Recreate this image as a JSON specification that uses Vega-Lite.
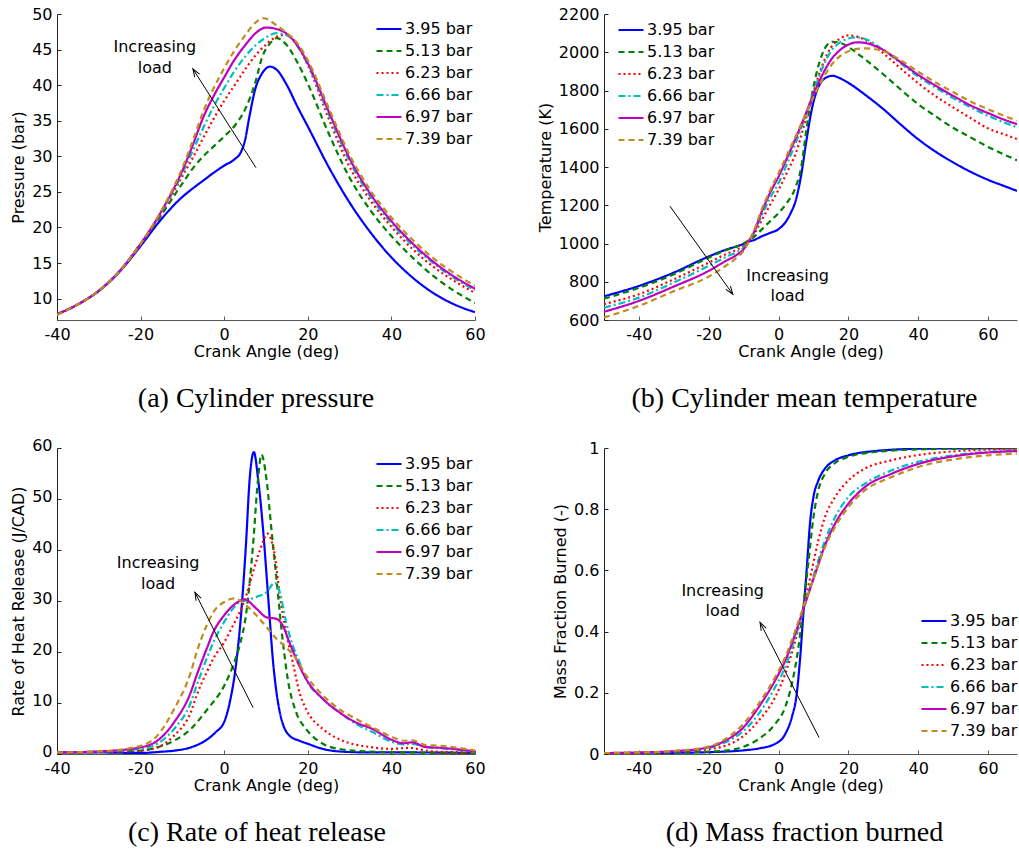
{
"$schema": "https://vega.github.io/schema/vega-lite/v6.json",
"background": "white",
"padding": {"left": 10, "top": 6, "right": 0, "bottom": 0},
"config": {
  "view": {"stroke": null},
  "font": "DejaVu Sans",
  "axis": {"grid": false, "domainColor": "#555", "tickColor": "#555", "labelColor": "#000", "titleColor": "#000", "labelFont": "DejaVu Sans", "titleFont": "DejaVu Sans", "labelFontSize": 16, "titleFontSize": 16, "titleFontWeight": "normal", "tickSize": -4, "labelPadding": 10, "titlePadding": 1, "labelFlush": false, "labelOverlap": false, "labelExpr": "'' + datum.value"},
  "axisY": {"titlePadding": 5, "labelPadding": 9, "domainColor": "#222", "tickColor": "#222"},
  "legend": {"symbolType": "stroke", "symbolSize": 625, "symbolStrokeWidth": 2.2, "labelFont": "DejaVu Sans", "labelFontSize": 16, "labelColor": "#000", "rowPadding": -1, "labelOffset": 2, "padding": 0},
  "title": {"orient": "bottom", "font": "Liberation Serif", "fontSize": 28, "fontWeight": "normal", "color": "#000", "offset": 26, "frame": "group"},
  "line": {"strokeWidth": 2.2, "interpolate": "monotone"}
},
"datasets": {
  "p": [
    {"load":"3.95 bar","ca":-40,"value":7.8},{"load":"3.95 bar","ca":-35,"value":9.2},{"load":"3.95 bar","ca":-30,"value":11.1},{"load":"3.95 bar","ca":-25,"value":13.8},{"load":"3.95 bar","ca":-20,"value":17.4},{"load":"3.95 bar","ca":-15,"value":21.2},{"load":"3.95 bar","ca":-10,"value":24.3},{"load":"3.95 bar","ca":-7.5,"value":25.5},{"load":"3.95 bar","ca":-5,"value":26.6},{"load":"3.95 bar","ca":-2.5,"value":27.7},{"load":"3.95 bar","ca":0,"value":28.7},{"load":"3.95 bar","ca":2.5,"value":29.6},{"load":"3.95 bar","ca":4,"value":30.6},{"load":"3.95 bar","ca":5,"value":32.3},{"load":"3.95 bar","ca":6,"value":35.5},{"load":"3.95 bar","ca":7.5,"value":39.6},{"load":"3.95 bar","ca":9,"value":41.6},{"load":"3.95 bar","ca":11,"value":42.6},{"load":"3.95 bar","ca":12.5,"value":42.2},{"load":"3.95 bar","ca":15,"value":40.0},{"load":"3.95 bar","ca":17.5,"value":37.0},{"load":"3.95 bar","ca":20,"value":34.2},{"load":"3.95 bar","ca":25,"value":28.5},{"load":"3.95 bar","ca":30,"value":23.5},{"load":"3.95 bar","ca":35,"value":19.3},{"load":"3.95 bar","ca":40,"value":15.8},{"load":"3.95 bar","ca":45,"value":13.0},{"load":"3.95 bar","ca":50,"value":10.8},{"load":"3.95 bar","ca":55,"value":9.2},{"load":"3.95 bar","ca":60,"value":8.1},
    {"load":"5.13 bar","ca":-40,"value":7.8},{"load":"5.13 bar","ca":-35,"value":9.2},{"load":"5.13 bar","ca":-30,"value":11.1},{"load":"5.13 bar","ca":-25,"value":13.9},{"load":"5.13 bar","ca":-20,"value":17.7},{"load":"5.13 bar","ca":-15,"value":21.8},{"load":"5.13 bar","ca":-10,"value":26.2},{"load":"5.13 bar","ca":-7.5,"value":28.3},{"load":"5.13 bar","ca":-5,"value":30.0},{"load":"5.13 bar","ca":-2.5,"value":31.4},{"load":"5.13 bar","ca":0,"value":32.8},{"load":"5.13 bar","ca":2.5,"value":34.3},{"load":"5.13 bar","ca":5,"value":36.6},{"load":"5.13 bar","ca":7.5,"value":40.5},{"load":"5.13 bar","ca":9,"value":43.8},{"load":"5.13 bar","ca":11,"value":45.9},{"load":"5.13 bar","ca":12.5,"value":46.6},{"load":"5.13 bar","ca":15,"value":45.6},{"load":"5.13 bar","ca":17.5,"value":43.2},{"load":"5.13 bar","ca":20,"value":40.2},{"load":"5.13 bar","ca":25,"value":33.2},{"load":"5.13 bar","ca":30,"value":27.0},{"load":"5.13 bar","ca":35,"value":22.4},{"load":"5.13 bar","ca":40,"value":18.8},{"load":"5.13 bar","ca":45,"value":15.8},{"load":"5.13 bar","ca":50,"value":13.2},{"load":"5.13 bar","ca":55,"value":11.1},{"load":"5.13 bar","ca":60,"value":9.4},
    {"load":"6.23 bar","ca":-40,"value":7.8},{"load":"6.23 bar","ca":-35,"value":9.2},{"load":"6.23 bar","ca":-30,"value":11.1},{"load":"6.23 bar","ca":-25,"value":13.9},{"load":"6.23 bar","ca":-20,"value":17.7},{"load":"6.23 bar","ca":-15,"value":22.0},{"load":"6.23 bar","ca":-10,"value":27.2},{"load":"6.23 bar","ca":-7.5,"value":29.8},{"load":"6.23 bar","ca":-5,"value":32.6},{"load":"6.23 bar","ca":-2.5,"value":35.3},{"load":"6.23 bar","ca":0,"value":37.8},{"load":"6.23 bar","ca":2.5,"value":40.0},{"load":"6.23 bar","ca":5,"value":42.2},{"load":"6.23 bar","ca":7.5,"value":44.2},{"load":"6.23 bar","ca":10,"value":45.7},{"load":"6.23 bar","ca":12.5,"value":46.8},{"load":"6.23 bar","ca":15,"value":47.1},{"load":"6.23 bar","ca":17.5,"value":45.6},{"load":"6.23 bar","ca":20,"value":42.8},{"load":"6.23 bar","ca":25,"value":35.3},{"load":"6.23 bar","ca":30,"value":28.5},{"load":"6.23 bar","ca":35,"value":23.8},{"load":"6.23 bar","ca":40,"value":20.1},{"load":"6.23 bar","ca":45,"value":17.0},{"load":"6.23 bar","ca":50,"value":14.5},{"load":"6.23 bar","ca":55,"value":12.5},{"load":"6.23 bar","ca":60,"value":10.8},
    {"load":"6.66 bar","ca":-40,"value":7.8},{"load":"6.66 bar","ca":-35,"value":9.2},{"load":"6.66 bar","ca":-30,"value":11.1},{"load":"6.66 bar","ca":-25,"value":13.9},{"load":"6.66 bar","ca":-20,"value":17.7},{"load":"6.66 bar","ca":-15,"value":22.2},{"load":"6.66 bar","ca":-10,"value":27.6},{"load":"6.66 bar","ca":-7.5,"value":30.8},{"load":"6.66 bar","ca":-5,"value":34.0},{"load":"6.66 bar","ca":-2.5,"value":37.0},{"load":"6.66 bar","ca":0,"value":39.6},{"load":"6.66 bar","ca":2.5,"value":42.0},{"load":"6.66 bar","ca":5,"value":44.0},{"load":"6.66 bar","ca":7.5,"value":45.6},{"load":"6.66 bar","ca":10,"value":46.7},{"load":"6.66 bar","ca":12.5,"value":47.3},{"load":"6.66 bar","ca":15,"value":47.0},{"load":"6.66 bar","ca":17.5,"value":45.5},{"load":"6.66 bar","ca":20,"value":42.9},{"load":"6.66 bar","ca":25,"value":35.9},{"load":"6.66 bar","ca":30,"value":29.3},{"load":"6.66 bar","ca":35,"value":24.3},{"load":"6.66 bar","ca":40,"value":20.6},{"load":"6.66 bar","ca":45,"value":17.5},{"load":"6.66 bar","ca":50,"value":15.0},{"load":"6.66 bar","ca":55,"value":12.9},{"load":"6.66 bar","ca":60,"value":11.2},
    {"load":"6.97 bar","ca":-40,"value":7.8},{"load":"6.97 bar","ca":-35,"value":9.2},{"load":"6.97 bar","ca":-30,"value":11.1},{"load":"6.97 bar","ca":-25,"value":13.9},{"load":"6.97 bar","ca":-20,"value":17.7},{"load":"6.97 bar","ca":-15,"value":22.3},{"load":"6.97 bar","ca":-10,"value":28.0},{"load":"6.97 bar","ca":-7.5,"value":31.6},{"load":"6.97 bar","ca":-5,"value":35.5},{"load":"6.97 bar","ca":-2.5,"value":38.5},{"load":"6.97 bar","ca":0,"value":41.1},{"load":"6.97 bar","ca":2.5,"value":43.6},{"load":"6.97 bar","ca":5,"value":45.6},{"load":"6.97 bar","ca":7.5,"value":47.3},{"load":"6.97 bar","ca":10,"value":48.1},{"load":"6.97 bar","ca":12.5,"value":47.9},{"load":"6.97 bar","ca":15,"value":47.2},{"load":"6.97 bar","ca":17.5,"value":45.6},{"load":"6.97 bar","ca":20,"value":43.1},{"load":"6.97 bar","ca":25,"value":36.3},{"load":"6.97 bar","ca":30,"value":29.7},{"load":"6.97 bar","ca":35,"value":24.7},{"load":"6.97 bar","ca":40,"value":20.9},{"load":"6.97 bar","ca":45,"value":17.8},{"load":"6.97 bar","ca":50,"value":15.2},{"load":"6.97 bar","ca":55,"value":13.1},{"load":"6.97 bar","ca":60,"value":11.4},
    {"load":"7.39 bar","ca":-40,"value":7.7},{"load":"7.39 bar","ca":-35,"value":9.2},{"load":"7.39 bar","ca":-30,"value":11.1},{"load":"7.39 bar","ca":-25,"value":13.9},{"load":"7.39 bar","ca":-20,"value":17.7},{"load":"7.39 bar","ca":-15,"value":22.4},{"load":"7.39 bar","ca":-10,"value":28.4},{"load":"7.39 bar","ca":-7.5,"value":32.2},{"load":"7.39 bar","ca":-5,"value":36.3},{"load":"7.39 bar","ca":-2.5,"value":39.6},{"load":"7.39 bar","ca":0,"value":42.4},{"load":"7.39 bar","ca":2.5,"value":44.9},{"load":"7.39 bar","ca":5,"value":47.0},{"load":"7.39 bar","ca":7.5,"value":48.8},{"load":"7.39 bar","ca":9.5,"value":49.4},{"load":"7.39 bar","ca":12.5,"value":48.4},{"load":"7.39 bar","ca":15,"value":47.3},{"load":"7.39 bar","ca":17.5,"value":45.9},{"load":"7.39 bar","ca":20,"value":43.5},{"load":"7.39 bar","ca":25,"value":36.8},{"load":"7.39 bar","ca":30,"value":30.2},{"load":"7.39 bar","ca":35,"value":25.2},{"load":"7.39 bar","ca":40,"value":21.4},{"load":"7.39 bar","ca":45,"value":18.3},{"load":"7.39 bar","ca":50,"value":15.7},{"load":"7.39 bar","ca":55,"value":13.6},{"load":"7.39 bar","ca":60,"value":11.8}
  ],
  "T": [
    {"load":"3.95 bar","ca":-50,"value":724},{"load":"3.95 bar","ca":-40,"value":778},{"load":"3.95 bar","ca":-30,"value":848},{"load":"3.95 bar","ca":-20,"value":932},{"load":"3.95 bar","ca":-15,"value":968},{"load":"3.95 bar","ca":-12,"value":985},{"load":"3.95 bar","ca":-10,"value":998},{"load":"3.95 bar","ca":-8.5,"value":1010},{"load":"3.95 bar","ca":-7,"value":1018},{"load":"3.95 bar","ca":-5,"value":1036},{"load":"3.95 bar","ca":-2.5,"value":1055},{"load":"3.95 bar","ca":0,"value":1075},{"load":"3.95 bar","ca":2,"value":1112},{"load":"3.95 bar","ca":3.5,"value":1160},{"load":"3.95 bar","ca":5,"value":1230},{"load":"3.95 bar","ca":6.5,"value":1360},{"load":"3.95 bar","ca":8,"value":1540},{"load":"3.95 bar","ca":9.5,"value":1700},{"load":"3.95 bar","ca":11,"value":1800},{"load":"3.95 bar","ca":13,"value":1860},{"load":"3.95 bar","ca":15.5,"value":1877},{"load":"3.95 bar","ca":17.5,"value":1865},{"load":"3.95 bar","ca":20,"value":1840},{"load":"3.95 bar","ca":25,"value":1775},{"load":"3.95 bar","ca":30,"value":1703},{"load":"3.95 bar","ca":35,"value":1622},{"load":"3.95 bar","ca":40,"value":1545},{"load":"3.95 bar","ca":45,"value":1480},{"load":"3.95 bar","ca":50,"value":1424},{"load":"3.95 bar","ca":55,"value":1375},{"load":"3.95 bar","ca":60,"value":1333},{"load":"3.95 bar","ca":65,"value":1298},{"load":"3.95 bar","ca":68.3,"value":1275},
    {"load":"5.13 bar","ca":-50,"value":712},{"load":"5.13 bar","ca":-40,"value":768},{"load":"5.13 bar","ca":-30,"value":839},{"load":"5.13 bar","ca":-20,"value":926},{"load":"5.13 bar","ca":-15,"value":966},{"load":"5.13 bar","ca":-12,"value":985},{"load":"5.13 bar","ca":-10,"value":1000},{"load":"5.13 bar","ca":-8.5,"value":1018},{"load":"5.13 bar","ca":-7,"value":1035},{"load":"5.13 bar","ca":-5,"value":1070},{"load":"5.13 bar","ca":-2.5,"value":1115},{"load":"5.13 bar","ca":0,"value":1160},{"load":"5.13 bar","ca":2.5,"value":1215},{"load":"5.13 bar","ca":5,"value":1300},{"load":"5.13 bar","ca":6.5,"value":1400},{"load":"5.13 bar","ca":8,"value":1600},{"load":"5.13 bar","ca":9.5,"value":1770},{"load":"5.13 bar","ca":11,"value":1900},{"load":"5.13 bar","ca":12.5,"value":1990},{"load":"5.13 bar","ca":14,"value":2040},{"load":"5.13 bar","ca":15.5,"value":2055},{"load":"5.13 bar","ca":17.5,"value":2050},{"load":"5.13 bar","ca":20,"value":2028},{"load":"5.13 bar","ca":22.5,"value":1995},{"load":"5.13 bar","ca":25,"value":1960},{"load":"5.13 bar","ca":30,"value":1885},{"load":"5.13 bar","ca":35,"value":1805},{"load":"5.13 bar","ca":40,"value":1728},{"load":"5.13 bar","ca":45,"value":1665},{"load":"5.13 bar","ca":50,"value":1605},{"load":"5.13 bar","ca":55,"value":1555},{"load":"5.13 bar","ca":60,"value":1505},{"load":"5.13 bar","ca":65,"value":1462},{"load":"5.13 bar","ca":68.3,"value":1435},
    {"load":"6.23 bar","ca":-50,"value":683},{"load":"6.23 bar","ca":-40,"value":735},{"load":"6.23 bar","ca":-30,"value":813},{"load":"6.23 bar","ca":-20,"value":900},{"load":"6.23 bar","ca":-15,"value":945},{"load":"6.23 bar","ca":-12,"value":968},{"load":"6.23 bar","ca":-10,"value":988},{"load":"6.23 bar","ca":-8.5,"value":1017},{"load":"6.23 bar","ca":-7,"value":1050},{"load":"6.23 bar","ca":-5,"value":1115},{"load":"6.23 bar","ca":-2.5,"value":1200},{"load":"6.23 bar","ca":0,"value":1281},{"load":"6.23 bar","ca":2.5,"value":1375},{"load":"6.23 bar","ca":5,"value":1475},{"load":"6.23 bar","ca":7.5,"value":1630},{"load":"6.23 bar","ca":10,"value":1790},{"load":"6.23 bar","ca":12.5,"value":1930},{"load":"6.23 bar","ca":15,"value":2025},{"load":"6.23 bar","ca":17.5,"value":2070},{"load":"6.23 bar","ca":20,"value":2088},{"load":"6.23 bar","ca":22.5,"value":2082},{"load":"6.23 bar","ca":25,"value":2062},{"load":"6.23 bar","ca":30,"value":1995},{"load":"6.23 bar","ca":35,"value":1915},{"load":"6.23 bar","ca":40,"value":1838},{"load":"6.23 bar","ca":45,"value":1770},{"load":"6.23 bar","ca":50,"value":1712},{"load":"6.23 bar","ca":55,"value":1656},{"load":"6.23 bar","ca":60,"value":1602},{"load":"6.23 bar","ca":65,"value":1568},{"load":"6.23 bar","ca":68.3,"value":1546},
    {"load":"6.66 bar","ca":-50,"value":665},{"load":"6.66 bar","ca":-40,"value":717},{"load":"6.66 bar","ca":-30,"value":796},{"load":"6.66 bar","ca":-20,"value":883},{"load":"6.66 bar","ca":-15,"value":930},{"load":"6.66 bar","ca":-12,"value":955},{"load":"6.66 bar","ca":-10,"value":978},{"load":"6.66 bar","ca":-8.5,"value":1015},{"load":"6.66 bar","ca":-7,"value":1055},{"load":"6.66 bar","ca":-5,"value":1140},{"load":"6.66 bar","ca":-2.5,"value":1235},{"load":"6.66 bar","ca":0,"value":1316},{"load":"6.66 bar","ca":2.5,"value":1420},{"load":"6.66 bar","ca":5,"value":1530},{"load":"6.66 bar","ca":7.5,"value":1655},{"load":"6.66 bar","ca":10,"value":1790},{"load":"6.66 bar","ca":12.5,"value":1915},{"load":"6.66 bar","ca":15,"value":2005},{"load":"6.66 bar","ca":17.5,"value":2050},{"load":"6.66 bar","ca":20,"value":2072},{"load":"6.66 bar","ca":22.5,"value":2078},{"load":"6.66 bar","ca":25,"value":2068},{"load":"6.66 bar","ca":30,"value":2012},{"load":"6.66 bar","ca":35,"value":1942},{"load":"6.66 bar","ca":40,"value":1872},{"load":"6.66 bar","ca":45,"value":1815},{"load":"6.66 bar","ca":50,"value":1760},{"load":"6.66 bar","ca":55,"value":1712},{"load":"6.66 bar","ca":60,"value":1668},{"load":"6.66 bar","ca":65,"value":1630},{"load":"6.66 bar","ca":68.3,"value":1607},
    {"load":"6.97 bar","ca":-50,"value":643},{"load":"6.97 bar","ca":-40,"value":700},{"load":"6.97 bar","ca":-30,"value":775},{"load":"6.97 bar","ca":-20,"value":857},{"load":"6.97 bar","ca":-15,"value":910},{"load":"6.97 bar","ca":-12,"value":940},{"load":"6.97 bar","ca":-10,"value":970},{"load":"6.97 bar","ca":-8.5,"value":1012},{"load":"6.97 bar","ca":-7,"value":1062},{"load":"6.97 bar","ca":-5,"value":1158},{"load":"6.97 bar","ca":-2.5,"value":1262},{"load":"6.97 bar","ca":0,"value":1350},{"load":"6.97 bar","ca":2.5,"value":1450},{"load":"6.97 bar","ca":5,"value":1555},{"load":"6.97 bar","ca":7.5,"value":1665},{"load":"6.97 bar","ca":10,"value":1780},{"load":"6.97 bar","ca":12.5,"value":1880},{"load":"6.97 bar","ca":15,"value":1960},{"load":"6.97 bar","ca":17.5,"value":2010},{"load":"6.97 bar","ca":20,"value":2040},{"load":"6.97 bar","ca":22.5,"value":2052},{"load":"6.97 bar","ca":25,"value":2048},{"load":"6.97 bar","ca":30,"value":2012},{"load":"6.97 bar","ca":35,"value":1948},{"load":"6.97 bar","ca":40,"value":1882},{"load":"6.97 bar","ca":45,"value":1825},{"load":"6.97 bar","ca":50,"value":1772},{"load":"6.97 bar","ca":55,"value":1722},{"load":"6.97 bar","ca":60,"value":1682},{"load":"6.97 bar","ca":65,"value":1645},{"load":"6.97 bar","ca":68.3,"value":1624},
    {"load":"7.39 bar","ca":-50,"value":613},{"load":"7.39 bar","ca":-40,"value":674},{"load":"7.39 bar","ca":-30,"value":751},{"load":"7.39 bar","ca":-20,"value":827},{"load":"7.39 bar","ca":-15,"value":885},{"load":"7.39 bar","ca":-12,"value":925},{"load":"7.39 bar","ca":-10,"value":962},{"load":"7.39 bar","ca":-8.5,"value":1010},{"load":"7.39 bar","ca":-7,"value":1070},{"load":"7.39 bar","ca":-5,"value":1170},{"load":"7.39 bar","ca":-2.5,"value":1275},{"load":"7.39 bar","ca":0,"value":1368},{"load":"7.39 bar","ca":2.5,"value":1465},{"load":"7.39 bar","ca":5,"value":1565},{"load":"7.39 bar","ca":7.5,"value":1665},{"load":"7.39 bar","ca":10,"value":1765},{"load":"7.39 bar","ca":12.5,"value":1855},{"load":"7.39 bar","ca":15,"value":1930},{"load":"7.39 bar","ca":17.5,"value":1978},{"load":"7.39 bar","ca":20,"value":2005},{"load":"7.39 bar","ca":22.5,"value":2018},{"load":"7.39 bar","ca":25,"value":2020},{"load":"7.39 bar","ca":30,"value":2006},{"load":"7.39 bar","ca":35,"value":1958},{"load":"7.39 bar","ca":40,"value":1898},{"load":"7.39 bar","ca":45,"value":1842},{"load":"7.39 bar","ca":50,"value":1792},{"load":"7.39 bar","ca":55,"value":1742},{"load":"7.39 bar","ca":60,"value":1702},{"load":"7.39 bar","ca":65,"value":1665},{"load":"7.39 bar","ca":68.3,"value":1642}
  ],
  "h": [
    {"load":"3.95 bar","ca":-40,"value":0.3},{"load":"3.95 bar","ca":-30,"value":0.3},{"load":"3.95 bar","ca":-20,"value":0.2},{"load":"3.95 bar","ca":-15,"value":0.45},{"load":"3.95 bar","ca":-12,"value":0.65},{"load":"3.95 bar","ca":-8,"value":1.3},{"load":"3.95 bar","ca":-4,"value":2.9},{"load":"3.95 bar","ca":-2,"value":4.3},{"load":"3.95 bar","ca":0,"value":6.3},{"load":"3.95 bar","ca":1.3,"value":10},{"load":"3.95 bar","ca":2.9,"value":18},{"load":"3.95 bar","ca":4.1,"value":28},{"load":"3.95 bar","ca":5.2,"value":41},{"load":"3.95 bar","ca":6.1,"value":54},{"load":"3.95 bar","ca":7.1,"value":59.2},{"load":"3.95 bar","ca":8.1,"value":54},{"load":"3.95 bar","ca":9.3,"value":44},{"load":"3.95 bar","ca":10.5,"value":31},{"load":"3.95 bar","ca":11.7,"value":18},{"load":"3.95 bar","ca":13.3,"value":8.2},{"load":"3.95 bar","ca":15.6,"value":3.6},{"load":"3.95 bar","ca":18,"value":2.6},{"load":"3.95 bar","ca":20,"value":2.0},{"load":"3.95 bar","ca":23.6,"value":1.0},{"load":"3.95 bar","ca":27.5,"value":0.5},{"load":"3.95 bar","ca":35,"value":0.3},{"load":"3.95 bar","ca":45,"value":0.3},{"load":"3.95 bar","ca":60,"value":0.2},
    {"load":"5.13 bar","ca":-40,"value":0.3},{"load":"5.13 bar","ca":-30,"value":0.4},{"load":"5.13 bar","ca":-20,"value":0.65},{"load":"5.13 bar","ca":-16,"value":1.3},{"load":"5.13 bar","ca":-12,"value":2.6},{"load":"5.13 bar","ca":-8,"value":4.9},{"load":"5.13 bar","ca":-4,"value":8.8},{"load":"5.13 bar","ca":0,"value":13.4},{"load":"5.13 bar","ca":2.1,"value":17.3},{"load":"5.13 bar","ca":3.7,"value":21.3},{"load":"5.13 bar","ca":5.3,"value":27.8},{"load":"5.13 bar","ca":6.9,"value":41},{"load":"5.13 bar","ca":8.1,"value":54},{"load":"5.13 bar","ca":8.9,"value":58.7},{"load":"5.13 bar","ca":10.1,"value":54},{"load":"5.13 bar","ca":11.3,"value":44},{"load":"5.13 bar","ca":12.5,"value":34.4},{"load":"5.13 bar","ca":13.7,"value":24.5},{"load":"5.13 bar","ca":15.2,"value":14.7},{"load":"5.13 bar","ca":17.2,"value":8.2},{"load":"5.13 bar","ca":19.6,"value":4.9},{"load":"5.13 bar","ca":23.6,"value":2.0},{"load":"5.13 bar","ca":27.5,"value":1.0},{"load":"5.13 bar","ca":35.5,"value":0.45},{"load":"5.13 bar","ca":45,"value":0.3},{"load":"5.13 bar","ca":60,"value":0.2},
    {"load":"6.23 bar","ca":-40,"value":0.3},{"load":"6.23 bar","ca":-30,"value":0.4},{"load":"6.23 bar","ca":-20,"value":0.7},{"load":"6.23 bar","ca":-16,"value":1.3},{"load":"6.23 bar","ca":-12,"value":3.6},{"load":"6.23 bar","ca":-8,"value":8.2},{"load":"6.23 bar","ca":-6.6,"value":11.5},{"load":"6.23 bar","ca":-4.2,"value":16},{"load":"6.23 bar","ca":-2.6,"value":18.7},{"load":"6.23 bar","ca":0,"value":21.9},{"load":"6.23 bar","ca":2.1,"value":25.2},{"load":"6.23 bar","ca":3.7,"value":27.8},{"load":"6.23 bar","ca":5.3,"value":31.1},{"load":"6.23 bar","ca":6.9,"value":35.7},{"load":"6.23 bar","ca":8.1,"value":38.9},{"load":"6.23 bar","ca":9.3,"value":41.6},{"load":"6.23 bar","ca":10.3,"value":43.2},{"load":"6.23 bar","ca":11,"value":42.5},{"load":"6.23 bar","ca":12.1,"value":38.9},{"load":"6.23 bar","ca":13.3,"value":31.1},{"load":"6.23 bar","ca":14.8,"value":23.9},{"load":"6.23 bar","ca":16.4,"value":18},{"load":"6.23 bar","ca":18,"value":12.1},{"load":"6.23 bar","ca":19.6,"value":8.8},{"load":"6.23 bar","ca":23.6,"value":4.9},{"load":"6.23 bar","ca":27.5,"value":2.9},{"load":"6.23 bar","ca":35.5,"value":1.3},{"load":"6.23 bar","ca":40,"value":1.0},{"load":"6.23 bar","ca":44,"value":1.2},{"load":"6.23 bar","ca":50,"value":0.5},{"load":"6.23 bar","ca":60,"value":0.3},
    {"load":"6.66 bar","ca":-40,"value":0.3},{"load":"6.66 bar","ca":-30,"value":0.5},{"load":"6.66 bar","ca":-20,"value":1.0},{"load":"6.66 bar","ca":-16,"value":2.0},{"load":"6.66 bar","ca":-12,"value":4.9},{"load":"6.66 bar","ca":-8,"value":10.1},{"load":"6.66 bar","ca":-6.6,"value":13.4},{"load":"6.66 bar","ca":-4.2,"value":18.7},{"load":"6.66 bar","ca":-2.6,"value":21.9},{"load":"6.66 bar","ca":0,"value":25.9},{"load":"6.66 bar","ca":2.1,"value":28.5},{"load":"6.66 bar","ca":3.7,"value":29.8},{"load":"6.66 bar","ca":5.3,"value":30.1},{"load":"6.66 bar","ca":7.7,"value":30.8},{"load":"6.66 bar","ca":10.1,"value":31.7},{"load":"6.66 bar","ca":12.1,"value":33.6},{"load":"6.66 bar","ca":13.3,"value":31.7},{"load":"6.66 bar","ca":14.8,"value":25.9},{"load":"6.66 bar","ca":16.4,"value":21.3},{"load":"6.66 bar","ca":18,"value":18},{"load":"6.66 bar","ca":19.6,"value":14.7},{"load":"6.66 bar","ca":23.6,"value":10.8},{"load":"6.66 bar","ca":27.5,"value":8.2},{"load":"6.66 bar","ca":31.5,"value":5.9},{"load":"6.66 bar","ca":35.5,"value":4.3},{"load":"6.66 bar","ca":40,"value":2.4},{"load":"6.66 bar","ca":43,"value":1.9},{"load":"6.66 bar","ca":45,"value":2.0},{"load":"6.66 bar","ca":48,"value":1.4},{"load":"6.66 bar","ca":52,"value":1.1},{"load":"6.66 bar","ca":56,"value":0.8},{"load":"6.66 bar","ca":60,"value":0.4},
    {"load":"6.97 bar","ca":-40,"value":0.3},{"load":"6.97 bar","ca":-30,"value":0.5},{"load":"6.97 bar","ca":-20,"value":1.3},{"load":"6.97 bar","ca":-16,"value":2.6},{"load":"6.97 bar","ca":-12,"value":6.2},{"load":"6.97 bar","ca":-8,"value":12.1},{"load":"6.97 bar","ca":-6.6,"value":15.4},{"load":"6.97 bar","ca":-4.2,"value":20.6},{"load":"6.97 bar","ca":-2.6,"value":23.9},{"load":"6.97 bar","ca":0,"value":27.2},{"load":"6.97 bar","ca":2.1,"value":29.1},{"load":"6.97 bar","ca":4.9,"value":30.3},{"load":"6.97 bar","ca":7.7,"value":28.5},{"load":"6.97 bar","ca":10.1,"value":26.8},{"load":"6.97 bar","ca":12.5,"value":26.5},{"load":"6.97 bar","ca":14,"value":25.2},{"load":"6.97 bar","ca":15.6,"value":21.9},{"load":"6.97 bar","ca":17.2,"value":18.7},{"load":"6.97 bar","ca":19.6,"value":14.7},{"load":"6.97 bar","ca":23.6,"value":10.8},{"load":"6.97 bar","ca":27.5,"value":8.2},{"load":"6.97 bar","ca":31.5,"value":6.2},{"load":"6.97 bar","ca":35.5,"value":4.9},{"load":"6.97 bar","ca":40,"value":2.8},{"load":"6.97 bar","ca":43,"value":2.1},{"load":"6.97 bar","ca":45,"value":2.3},{"load":"6.97 bar","ca":48,"value":1.4},{"load":"6.97 bar","ca":52,"value":1.2},{"load":"6.97 bar","ca":56,"value":0.9},{"load":"6.97 bar","ca":60,"value":0.5},
    {"load":"7.39 bar","ca":-40,"value":0.3},{"load":"7.39 bar","ca":-30,"value":0.5},{"load":"7.39 bar","ca":-20,"value":1.6},{"load":"7.39 bar","ca":-16,"value":3.6},{"load":"7.39 bar","ca":-12,"value":8.8},{"load":"7.39 bar","ca":-8,"value":16},{"load":"7.39 bar","ca":-6.6,"value":19.9},{"load":"7.39 bar","ca":-4.2,"value":25.2},{"load":"7.39 bar","ca":-2.6,"value":27.8},{"load":"7.39 bar","ca":0,"value":29.8},{"load":"7.39 bar","ca":2.5,"value":30.5},{"load":"7.39 bar","ca":5.3,"value":29.1},{"load":"7.39 bar","ca":7.7,"value":27.2},{"load":"7.39 bar","ca":10.1,"value":24.9},{"load":"7.39 bar","ca":12.5,"value":22.6},{"load":"7.39 bar","ca":14.8,"value":20.9},{"load":"7.39 bar","ca":17.2,"value":18.7},{"load":"7.39 bar","ca":19.6,"value":15.4},{"load":"7.39 bar","ca":23.6,"value":11.5},{"load":"7.39 bar","ca":27.5,"value":8.8},{"load":"7.39 bar","ca":31.5,"value":6.9},{"load":"7.39 bar","ca":35.5,"value":5.2},{"load":"7.39 bar","ca":40,"value":3.4},{"load":"7.39 bar","ca":43,"value":2.6},{"load":"7.39 bar","ca":45,"value":2.7},{"load":"7.39 bar","ca":48,"value":1.8},{"load":"7.39 bar","ca":52,"value":1.6},{"load":"7.39 bar","ca":56,"value":1.2},{"load":"7.39 bar","ca":60,"value":0.7}
  ],
  "m": [
    {"load":"3.95 bar","ca":-50,"value":0.003},{"load":"3.95 bar","ca":-40,"value":0.003},{"load":"3.95 bar","ca":-30,"value":0.004},{"load":"3.95 bar","ca":-20,"value":0.006},{"load":"3.95 bar","ca":-10,"value":0.012},{"load":"3.95 bar","ca":-5.7,"value":0.018},{"load":"3.95 bar","ca":-1,"value":0.033},{"load":"3.95 bar","ca":1.9,"value":0.065},{"load":"3.95 bar","ca":3.8,"value":0.12},{"load":"3.95 bar","ca":5.2,"value":0.196},{"load":"3.95 bar","ca":6.2,"value":0.316},{"load":"3.95 bar","ca":7.1,"value":0.458},{"load":"3.95 bar","ca":8.1,"value":0.61},{"load":"3.95 bar","ca":9,"value":0.753},{"load":"3.95 bar","ca":10,"value":0.84},{"load":"3.95 bar","ca":11.4,"value":0.894},{"load":"3.95 bar","ca":13.3,"value":0.933},{"load":"3.95 bar","ca":16.2,"value":0.96},{"load":"3.95 bar","ca":20,"value":0.976},{"load":"3.95 bar","ca":27.6,"value":0.99},{"load":"3.95 bar","ca":41.9,"value":0.998},{"load":"3.95 bar","ca":55,"value":0.999},{"load":"3.95 bar","ca":68.3,"value":1.0},
    {"load":"5.13 bar","ca":-50,"value":0.003},{"load":"5.13 bar","ca":-40,"value":0.003},{"load":"5.13 bar","ca":-30,"value":0.005},{"load":"5.13 bar","ca":-20,"value":0.008},{"load":"5.13 bar","ca":-15.2,"value":0.011},{"load":"5.13 bar","ca":-10.5,"value":0.022},{"load":"5.13 bar","ca":-5.7,"value":0.049},{"load":"5.13 bar","ca":-1,"value":0.098},{"load":"5.13 bar","ca":1.9,"value":0.153},{"load":"5.13 bar","ca":3.8,"value":0.229},{"load":"5.13 bar","ca":5.7,"value":0.349},{"load":"5.13 bar","ca":7.1,"value":0.48},{"load":"5.13 bar","ca":8.6,"value":0.633},{"load":"5.13 bar","ca":10,"value":0.774},{"load":"5.13 bar","ca":11.4,"value":0.862},{"load":"5.13 bar","ca":13.3,"value":0.916},{"load":"5.13 bar","ca":16.2,"value":0.951},{"load":"5.13 bar","ca":20,"value":0.971},{"load":"5.13 bar","ca":27.6,"value":0.987},{"load":"5.13 bar","ca":41.9,"value":0.996},{"load":"5.13 bar","ca":55,"value":0.998},{"load":"5.13 bar","ca":68.3,"value":0.999},
    {"load":"6.23 bar","ca":-50,"value":0.003},{"load":"6.23 bar","ca":-40,"value":0.004},{"load":"6.23 bar","ca":-30,"value":0.007},{"load":"6.23 bar","ca":-20,"value":0.016},{"load":"6.23 bar","ca":-15.2,"value":0.027},{"load":"6.23 bar","ca":-10.5,"value":0.055},{"load":"6.23 bar","ca":-5.7,"value":0.109},{"load":"6.23 bar","ca":-1,"value":0.185},{"load":"6.23 bar","ca":1.9,"value":0.262},{"load":"6.23 bar","ca":4.8,"value":0.371},{"load":"6.23 bar","ca":7.6,"value":0.502},{"load":"6.23 bar","ca":9.5,"value":0.6},{"load":"6.23 bar","ca":11.4,"value":0.698},{"load":"6.23 bar","ca":13.3,"value":0.774},{"load":"6.23 bar","ca":16.2,"value":0.84},{"load":"6.23 bar","ca":20,"value":0.894},{"load":"6.23 bar","ca":24.8,"value":0.933},{"load":"6.23 bar","ca":32.4,"value":0.96},{"load":"6.23 bar","ca":41.9,"value":0.98},{"load":"6.23 bar","ca":51.4,"value":0.99},{"load":"6.23 bar","ca":68.3,"value":0.997},
    {"load":"6.66 bar","ca":-50,"value":0.003},{"load":"6.66 bar","ca":-40,"value":0.004},{"load":"6.66 bar","ca":-30,"value":0.008},{"load":"6.66 bar","ca":-20,"value":0.02},{"load":"6.66 bar","ca":-15.2,"value":0.038},{"load":"6.66 bar","ca":-10.5,"value":0.071},{"load":"6.66 bar","ca":-5.7,"value":0.131},{"load":"6.66 bar","ca":-1,"value":0.218},{"load":"6.66 bar","ca":1.9,"value":0.284},{"load":"6.66 bar","ca":4.8,"value":0.382},{"load":"6.66 bar","ca":7.6,"value":0.491},{"load":"6.66 bar","ca":10.5,"value":0.6},{"load":"6.66 bar","ca":13.3,"value":0.698},{"load":"6.66 bar","ca":16.2,"value":0.774},{"load":"6.66 bar","ca":20,"value":0.84},{"load":"6.66 bar","ca":24.8,"value":0.884},{"load":"6.66 bar","ca":32.4,"value":0.927},{"load":"6.66 bar","ca":41.9,"value":0.96},{"load":"6.66 bar","ca":51.4,"value":0.978},{"load":"6.66 bar","ca":68.3,"value":0.992},
    {"load":"6.97 bar","ca":-50,"value":0.003},{"load":"6.97 bar","ca":-40,"value":0.005},{"load":"6.97 bar","ca":-30,"value":0.009},{"load":"6.97 bar","ca":-20,"value":0.022},{"load":"6.97 bar","ca":-15.2,"value":0.044},{"load":"6.97 bar","ca":-10.5,"value":0.082},{"load":"6.97 bar","ca":-5.7,"value":0.153},{"load":"6.97 bar","ca":-1,"value":0.24},{"load":"6.97 bar","ca":1.9,"value":0.305},{"load":"6.97 bar","ca":4.8,"value":0.393},{"load":"6.97 bar","ca":7.6,"value":0.491},{"load":"6.97 bar","ca":10.5,"value":0.589},{"load":"6.97 bar","ca":13.3,"value":0.682},{"load":"6.97 bar","ca":16.2,"value":0.753},{"load":"6.97 bar","ca":20,"value":0.818},{"load":"6.97 bar","ca":24.8,"value":0.873},{"load":"6.97 bar","ca":32.4,"value":0.916},{"load":"6.97 bar","ca":41.9,"value":0.954},{"load":"6.97 bar","ca":51.4,"value":0.975},{"load":"6.97 bar","ca":68.3,"value":0.99},
    {"load":"7.39 bar","ca":-50,"value":0.003},{"load":"7.39 bar","ca":-40,"value":0.005},{"load":"7.39 bar","ca":-30,"value":0.01},{"load":"7.39 bar","ca":-20,"value":0.024},{"load":"7.39 bar","ca":-15.2,"value":0.049},{"load":"7.39 bar","ca":-10.5,"value":0.093},{"load":"7.39 bar","ca":-5.7,"value":0.164},{"load":"7.39 bar","ca":-1,"value":0.251},{"load":"7.39 bar","ca":1.9,"value":0.316},{"load":"7.39 bar","ca":4.8,"value":0.404},{"load":"7.39 bar","ca":7.6,"value":0.496},{"load":"7.39 bar","ca":10.5,"value":0.589},{"load":"7.39 bar","ca":13.3,"value":0.676},{"load":"7.39 bar","ca":16.2,"value":0.742},{"load":"7.39 bar","ca":20,"value":0.807},{"load":"7.39 bar","ca":24.8,"value":0.862},{"load":"7.39 bar","ca":32.4,"value":0.905},{"load":"7.39 bar","ca":41.9,"value":0.944},{"load":"7.39 bar","ca":51.4,"value":0.965},{"load":"7.39 bar","ca":68.3,"value":0.982}
  ]
},
"columns": 2,
"spacing": {"row": 128, "column": 129},
"bounds": "flush",
"align": "each",
"resolve": {"scale": {"color": "independent", "strokeDash": "independent"}, "legend": {"color": "independent", "strokeDash": "independent"}},
"concat": [
  {
    "width": 418, "height": 306,
    "title": {"text": "(a) Cylinder pressure", "dx": -10},
    "encoding": {
      "x": {"field": "ca", "type": "quantitative", "scale": {"domain": [-40, 60], "nice": false, "zero": false}, "axis": {"title": "Crank Angle (deg)", "values": [-40, -20, 0, 20, 40, 60]}},
      "y": {"field": "value", "type": "quantitative", "scale": {"domain": [7, 50], "nice": false, "zero": false}, "axis": {"title": "Pressure (bar)", "values": [10, 15, 20, 25, 30, 35, 40, 45, 50]}}
    },
    "layer": [
      {"data": {"name": "p"}, "mark": {"type": "line", "clip": true},
       "encoding": {
         "color": {"field": "load", "type": "nominal", "scale": {"domain": ["3.95 bar","5.13 bar","6.23 bar","6.66 bar","6.97 bar","7.39 bar"], "range": ["#0000FF","#008000","#FF0000","#00BFBF","#BF00BF","#BF8C1F"]}, "legend": {"title": null, "orient": "none", "legendX": 318, "legendY": 1}},
         "strokeDash": {"field": "load", "type": "nominal", "scale": {"domain": ["3.95 bar","5.13 bar","6.23 bar","6.66 bar","6.97 bar","7.39 bar"], "range": [[1,0],[6,4],[2,3],[7,3,2,3],[1,0],[6,4]]}, "legend": {"title": null, "orient": "none", "legendX": 318, "legendY": 1}}
       }},
      {"data": {"values": [{"label": "Increasing", "ca": -16.6, "value": 45.4}, {"label": "load", "ca": -16.6, "value": 42.4}]}, "mark": {"type": "text", "fontSize": 16, "font": "DejaVu Sans", "color": "#000"}, "encoding": {"text": {"field": "label"}}},
      {"data": {"values": [{"ca": 7.6, "value": 28.4, "ca2": -7.5, "value2": 42.3}]}, "mark": {"type": "rule", "color": "#000", "strokeWidth": 1}, "encoding": {"x2": {"field": "ca2"}, "y2": {"field": "value2"}}},
      {"data": {"values": [{"ca": -7.5, "value": 42.3}]}, "mark": {"type": "point", "shape": "M -0.35 1 L 0 0 L 0.35 1", "filled": false, "stroke": "#000", "strokeWidth": 1, "size": 256, "angle": 327.5, "opacity": 1}}
    ]
  },
  {
    "width": 413, "height": 306,
    "title": {"text": "(b) Cylinder mean temperature", "dx": -6},
    "encoding": {
      "x": {"field": "ca", "type": "quantitative", "scale": {"domain": [-50, 68.3], "nice": false, "zero": false}, "axis": {"title": "Crank Angle (deg)", "values": [-40, -20, 0, 20, 40, 60]}},
      "y": {"field": "value", "type": "quantitative", "scale": {"domain": [600, 2200], "nice": false, "zero": false}, "axis": {"title": "Temperature (K)", "values": [600, 800, 1000, 1200, 1400, 1600, 1800, 2000, 2200]}}
    },
    "layer": [
      {"data": {"name": "T"}, "mark": {"type": "line", "clip": true},
       "encoding": {
         "color": {"field": "load", "type": "nominal", "scale": {"domain": ["3.95 bar","5.13 bar","6.23 bar","6.66 bar","6.97 bar","7.39 bar"], "range": ["#0000FF","#008000","#FF0000","#00BFBF","#BF00BF","#BF8C1F"]}, "legend": {"title": null, "orient": "none", "legendX": 13, "legendY": 2}},
         "strokeDash": {"field": "load", "type": "nominal", "scale": {"domain": ["3.95 bar","5.13 bar","6.23 bar","6.66 bar","6.97 bar","7.39 bar"], "range": [[1,0],[6,4],[2,3],[7,3,2,3],[1,0],[6,4]]}, "legend": {"title": null, "orient": "none", "legendX": 13, "legendY": 2}}
       }},
      {"data": {"values": [{"label": "Increasing", "ca": 2.6, "value": 829}, {"label": "load", "ca": 2.6, "value": 724}]}, "mark": {"type": "text", "fontSize": 16, "font": "DejaVu Sans", "color": "#000"}, "encoding": {"text": {"field": "label"}}},
      {"data": {"values": [{"ca": -31.1, "value": 1195, "ca2": -13.1, "value2": 734.5}]}, "mark": {"type": "rule", "color": "#000", "strokeWidth": 1}, "encoding": {"x2": {"field": "ca2"}, "y2": {"field": "value2"}}},
      {"data": {"values": [{"ca": -13.1, "value": 734.5}]}, "mark": {"type": "point", "shape": "M -0.35 1 L 0 0 L 0.35 1", "filled": false, "stroke": "#000", "strokeWidth": 1, "size": 256, "angle": 144.4, "opacity": 1}}
    ]
  },
  {
    "width": 418, "height": 306,
    "title": {"text": "(c) Rate of heat release", "dx": -9},
    "encoding": {
      "x": {"field": "ca", "type": "quantitative", "scale": {"domain": [-40, 60], "nice": false, "zero": false}, "axis": {"title": "Crank Angle (deg)", "values": [-40, -20, 0, 20, 40, 60]}},
      "y": {"field": "value", "type": "quantitative", "scale": {"domain": [0, 60], "nice": false, "zero": false}, "axis": {"title": "Rate of Heat Release (J/CAD)", "values": [0, 10, 20, 30, 40, 50, 60], "labelOffset": -3}}
    },
    "layer": [
      {"data": {"name": "h"}, "mark": {"type": "line", "clip": true},
       "encoding": {
         "color": {"field": "load", "type": "nominal", "scale": {"domain": ["3.95 bar","5.13 bar","6.23 bar","6.66 bar","6.97 bar","7.39 bar"], "range": ["#0000FF","#008000","#FF0000","#00BFBF","#BF00BF","#BF8C1F"]}, "legend": {"title": null, "orient": "none", "legendX": 318, "legendY": 2}},
         "strokeDash": {"field": "load", "type": "nominal", "scale": {"domain": ["3.95 bar","5.13 bar","6.23 bar","6.66 bar","6.97 bar","7.39 bar"], "range": [[1,0],[6,4],[2,3],[7,3,2,3],[1,0],[6,4]]}, "legend": {"title": null, "orient": "none", "legendX": 318, "legendY": 2}}
       }},
      {"data": {"values": [{"label": "Increasing", "ca": -15.8, "value": 37.4}, {"label": "load", "ca": -15.8, "value": 33.4}]}, "mark": {"type": "text", "fontSize": 16, "font": "DejaVu Sans", "color": "#000"}, "encoding": {"text": {"field": "label"}}},
      {"data": {"values": [{"ca": 6.9, "value": 9.1, "ca2": -7.0, "value2": 31.7}]}, "mark": {"type": "rule", "color": "#000", "strokeWidth": 1}, "encoding": {"x2": {"field": "ca2"}, "y2": {"field": "value2"}}},
      {"data": {"values": [{"ca": -7.0, "value": 31.7}]}, "mark": {"type": "point", "shape": "M -0.35 1 L 0 0 L 0.35 1", "filled": false, "stroke": "#000", "strokeWidth": 1, "size": 256, "angle": 333.2, "opacity": 1}}
    ]
  },
  {
    "width": 413, "height": 306,
    "title": {"text": "(d) Mass fraction burned", "dx": -6},
    "encoding": {
      "x": {"field": "ca", "type": "quantitative", "scale": {"domain": [-50, 68.3], "nice": false, "zero": false}, "axis": {"title": "Crank Angle (deg)", "values": [-40, -20, 0, 20, 40, 60]}},
      "y": {"field": "value", "type": "quantitative", "scale": {"domain": [0, 1], "nice": false, "zero": false}, "axis": {"title": "Mass Fraction Burned (-)", "values": [0, 0.2, 0.4, 0.6, 0.8, 1]}}
    },
    "layer": [
      {"data": {"name": "m"}, "mark": {"type": "line", "clip": true},
       "encoding": {
         "color": {"field": "load", "type": "nominal", "scale": {"domain": ["3.95 bar","5.13 bar","6.23 bar","6.66 bar","6.97 bar","7.39 bar"], "range": ["#0000FF","#008000","#FF0000","#00BFBF","#BF00BF","#BF8C1F"]}, "legend": {"title": null, "orient": "none", "legendX": 316, "legendY": 159}},
         "strokeDash": {"field": "load", "type": "nominal", "scale": {"domain": ["3.95 bar","5.13 bar","6.23 bar","6.66 bar","6.97 bar","7.39 bar"], "range": [[1,0],[6,4],[2,3],[7,3,2,3],[1,0],[6,4]]}, "legend": {"title": null, "orient": "none", "legendX": 316, "legendY": 159}}
       }},
      {"data": {"values": [{"label": "Increasing", "ca": -16, "value": 0.534}, {"label": "load", "ca": -16, "value": 0.467}]}, "mark": {"type": "text", "fontSize": 16, "font": "DejaVu Sans", "color": "#000"}, "encoding": {"text": {"field": "label"}}},
      {"data": {"values": [{"ca": 11.6, "value": 0.054, "ca2": -5.3, "value2": 0.43}]}, "mark": {"type": "rule", "color": "#000", "strokeWidth": 1}, "encoding": {"x2": {"field": "ca2"}, "y2": {"field": "value2"}}},
      {"data": {"values": [{"ca": -5.3, "value": 0.43}]}, "mark": {"type": "point", "shape": "M -0.35 1 L 0 0 L 0.35 1", "filled": false, "stroke": "#000", "strokeWidth": 1, "size": 256, "angle": 332.7, "opacity": 1}}
    ]
  }
]
}
